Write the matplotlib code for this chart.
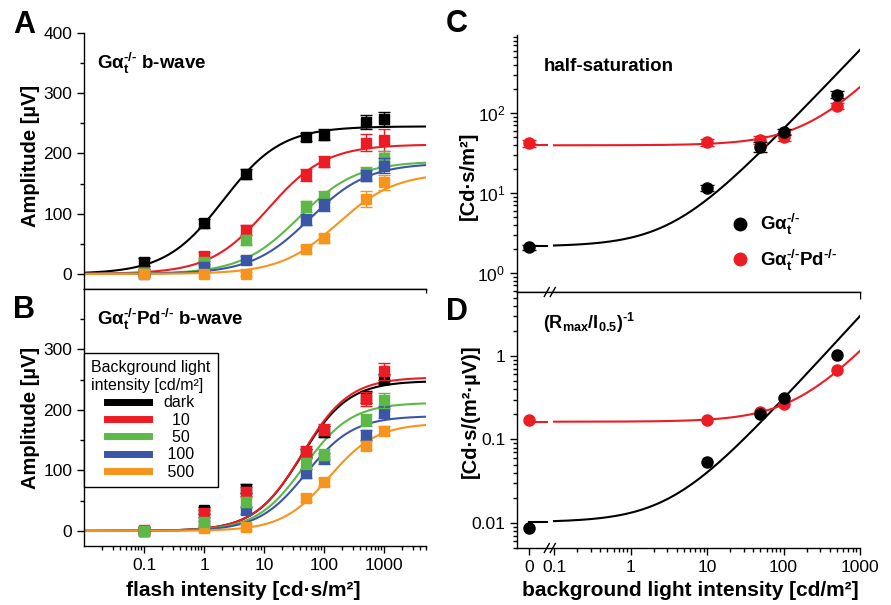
import numpy as np
import matplotlib
matplotlib.use('Agg')
import matplotlib.pyplot as plt
from matplotlib.lines import Line2D
from matplotlib.ticker import FixedLocator, MultipleLocator, NullFormatter, LogLocator

plt.rcParams['font.family'] = ['Liberation Sans', 'DejaVu Sans']
plt.rcParams['mathtext.fontset'] = 'custom'
plt.rcParams['mathtext.rm'] = 'Liberation Sans'
plt.rcParams['mathtext.bf'] = 'Liberation Sans:bold'
plt.rcParams['mathtext.it'] = 'Liberation Sans:italic'
plt.rcParams['axes.linewidth'] = 1.0

# ---- data -------------------------------------------------------------
flash = [0.1, 1, 5, 50, 100, 500, 1000]            # cd s/m2
bg_labels = ['dark', '  10', '  50', ' 100', ' 500']
colors = ['#000000', '#ed1c24', '#5cb947', '#3b56a6', '#f7941d']

# A: Gat-/- b-wave amplitude (uV), one row per background
amp_a = [[20, 84, 166, 227, 231, 252, 257],
         [3, 29, 73, 164, 186, 218, 222],
         [1, 20, 56, 112, 128, 168, 192],
         [0, 12, 23, 90, 115, 163, 180],
         [0, 0, 0, 41, 59, 124, 152]]
err_a = [[7, 7, 8, 7, 9, 12, 12],
         [5, 7, 9, 10, 9, 14, 18],
         [4, 6, 8, 9, 9, 10, 12],
         [3, 5, 6, 9, 10, 9, 12],
         [3, 3, 3, 6, 7, 13, 12]]
rmax_a = [245, 215, 187, 184, 168]
half_a = [2.1, 11.5, 38, 58, 170]
hill_a = 0.9

# B: Gat-/-Pd-/- b-wave amplitude (uV)
amp_b = [[0, 34, 70, 128, 164, 222, 251],
         [1, 29, 65, 131, 167, 218, 264],
         [0, 15, 48, 112, 126, 184, 216],
         [0, 12, 34, 95, 120, 159, 196],
         [0, 4, 7, 54, 81, 141, 166]]
err_b = [[4, 6, 7, 8, 9, 10, 8],
         [5, 6, 8, 9, 9, 12, 14],
         [4, 6, 8, 9, 9, 10, 12],
         [3, 5, 6, 8, 9, 8, 10],
         [3, 4, 5, 7, 7, 8, 8]]
rmax_b = [248, 254, 212, 190, 178]
half_b = [42, 43, 46, 50, 122]
hill_b = 1.1

# C / D vs background light (cd/m2)
bg = [0, 10, 50, 100, 500]
half_gat = [2.1, 11.5, 38, 58, 170]
half_gat_err = [0.15, 1.0, 5, 5, 18]
half_pd = [42, 43, 46, 50, 122]
half_pd_err = [4, 4, 5, 5, 10]
ratio_gat = [0.0088, 0.053, 0.2, 0.31, 1.02]
ratio_pd = [0.17, 0.17, 0.215, 0.265, 0.68]
# Weber fits: y0 * (1 + B / Bc)
fit_c = {'gat': (2.15, 3.5), 'pd': (39.5, 230)}
fit_d = {'gat': (0.0102, 3.4), 'pd': (0.163, 165)}

# ---- layout -----------------------------------------------------------
W, H = 891, 605
fig = plt.figure(figsize=(W / 100, H / 100), dpi=100)


def box(l, t, r, b):
    return [l / W, 1 - b / H, (r - l) / W, (b - t) / H]


ax_a = fig.add_axes(box(84, 33, 426, 289))
ax_b = fig.add_axes(box(84, 289, 426, 546))
ax_c = fig.add_axes(box(517, 35, 860, 292))
ax_d = fig.add_axes(box(517, 292, 860, 548))

xs = np.logspace(-2, np.log10(5000), 400)


def hill(x, rmax, half, n):
    return rmax * x ** n / (x ** n + half ** n)


# drawing order of the markers (higher = on top)
z_a = [3, 4, 5, 6, 7]
z_b = [3, 4, 7, 5, 6]

for ax, amp, err, rmax, half, n, zs in [(ax_a, amp_a, err_a, rmax_a, half_a, hill_a, z_a),
                                        (ax_b, amp_b, err_b, rmax_b, half_b, hill_b, z_b)]:
    for i in range(5):
        ax.plot(xs, hill(xs, rmax[i], half[i], n), color=colors[i], lw=1.5, zorder=2)
    for i in range(5):
        ax.errorbar(flash, amp[i], yerr=err[i], fmt='s', color=colors[i], ms=7,
                    capsize=4.5, elinewidth=1.0, capthick=1.0, zorder=zs[i])
    ax.set_xscale('log')
    ax.set_xlim(0.01, 5000)
    ax.set_ylim(-25, 400)
    ax.spines['right'].set_visible(False)
    ax.tick_params(which='both', direction='out', labelsize=12.5, width=1)
    ax.tick_params(which='major', length=5)
    ax.tick_params(which='minor', length=3)
    ax.xaxis.set_major_locator(FixedLocator([0.1, 1, 10, 100, 1000]))
    ax.xaxis.set_minor_locator(LogLocator(base=10, subs=np.arange(2, 10), numticks=20))
    ax.xaxis.set_minor_formatter(NullFormatter())

ax_a.spines['top'].set_visible(False)
ax_a.yaxis.set_major_locator(MultipleLocator(100))
ax_a.yaxis.set_minor_locator(MultipleLocator(50))
ax_a.tick_params(axis='x', labelbottom=False)

ax_b.yaxis.set_major_locator(FixedLocator([0, 100, 200, 300]))
ax_b.yaxis.set_minor_locator(FixedLocator([50, 150, 250, 350]))
ax_b.set_xticklabels(['0.1', '1', '10', '100', '1000'])

hy = '\u2010'
ko = '$_\\mathbf{t}^\\mathbf{' + hy + '/' + hy + '}$'
pd = 'Pd$^\\mathbf{' + hy + '/' + hy + '}$'
title_kw = dict(fontsize=13.5, fontweight='bold', va='center', ha='left')
ax_a.text(0.038, 0.883, 'G\u03b1' + ko + ' b-wave', transform=ax_a.transAxes, **title_kw)
ax_b.text(0.038, 0.883, 'G\u03b1' + ko + pd + ' b-wave', transform=ax_b.transAxes, **title_kw)

handles = [Line2D([], [], color=c, lw=5) for c in colors]
leg = ax_b.legend(handles, bg_labels, title='Background light\nintensity [cd/m\u00b2]',
                  loc='upper left', bbox_to_anchor=(0.0, 0.75), borderaxespad=0,
                  fontsize=11.5, title_fontsize=11.5, handlelength=2.6, handletextpad=0.9,
                  labelspacing=0.15, borderpad=0.45, fancybox=False, edgecolor='black')
leg.get_frame().set_linewidth(1.0)
leg.get_frame().set_alpha(None)

# ---- C and D -----------------------------------------------------------
x_zero = 0.047      # where "0" sits on the broken axis
x_break = 0.088
bg_pos = [x_zero if b == 0 else b for b in bg]
xr = np.logspace(-1, 3, 300)
xl = np.array([x_zero, 0.082])

for ax, fits in [(ax_c, fit_c), (ax_d, fit_d)]:
    for key, c in [('gat', 'black'), ('pd', colors[1])]:
        y0, bc = fits[key]
        ax.plot(xr, y0 * (1 + xr / bc), color=c, lw=1.5, zorder=2)
        ax.plot(xl, [y0, y0], color=c, lw=1.5, zorder=2)

ax_c.errorbar(bg_pos, half_gat, yerr=half_gat_err, fmt='o', color='black', ms=8,
              capsize=5, elinewidth=1.0, capthick=1.0, zorder=4)
ax_c.errorbar(bg_pos, half_pd, yerr=half_pd_err, fmt='o', color=colors[1], ms=8,
              capsize=5, elinewidth=1.0, capthick=1.0, zorder=3)
ax_d.plot(bg_pos, ratio_gat, 'o', color='black', ms=8, zorder=4)
ax_d.plot(bg_pos, ratio_pd, 'o', color=colors[1], ms=8, zorder=3)

for ax in (ax_c, ax_d):
    ax.set_xscale('log')
    ax.set_yscale('log')
    ax.set_xlim(0.0328, 1000)
    ax.spines['right'].set_visible(False)
    ax.xaxis.set_major_locator(FixedLocator([x_zero, 0.1, 1, 10, 100, 1000]))
    minors = [k * 10.0 ** d for d in range(-1, 3) for k in range(2, 10)]
    ax.xaxis.set_minor_locator(FixedLocator(minors))
    ax.xaxis.set_minor_formatter(NullFormatter())
    ax.yaxis.set_minor_locator(LogLocator(base=10, subs=np.arange(2, 10), numticks=20))
    ax.yaxis.set_minor_formatter(NullFormatter())
    ax.tick_params(which='both', direction='out', labelsize=12.5, width=1)
    ax.tick_params(which='major', length=5)
    ax.tick_params(which='minor', length=3)

ax_c.spines['top'].set_visible(False)
ax_c.set_ylim(0.58, 944)
ax_c.tick_params(axis='x', labelbottom=False)
ax_d.set_ylim(0.005, 5.84)
ax_d.yaxis.set_major_locator(FixedLocator([0.01, 0.1, 1]))
ax_d.set_yticklabels(['0.01', '0.1', '1'])
ax_d.set_xticklabels(['0', '0.1', '1', '10', '100', '1000'])

# "//" axis-break marks, drawn in pixel space at the break position
for ax in (ax_c, ax_d):
    px, py = ax.transData.transform((x_break, ax.get_ylim()[0]))
    for dx in (-3, 3):
        fig.add_artist(Line2D([px + dx - 2.5, px + dx + 2.5], [py - 4.5, py + 4.5],
                              transform=None, color='black', lw=1.0))

ax_c.text(0.079, 0.879, 'half-saturation', transform=ax_c.transAxes, **title_kw)
ax_d.text(0.076, 0.879, '(R$_\\mathbf{max}$/I$_\\mathbf{0.5}$)$^\\mathbf{' + hy + '1}$',
          transform=ax_d.transAxes, **dict(title_kw, fontsize=13))

c_handles = [Line2D([], [], marker='o', ls='', color='black', ms=9),
             Line2D([], [], marker='o', ls='', color=colors[1], ms=9)]
ax_c.legend(c_handles, ['G\u03b1' + ko, 'G\u03b1' + ko + pd],
            loc='upper left', bbox_to_anchor=(0.6, 0.34), frameon=False,
            prop={'weight': 'bold', 'size': 13.5}, handlelength=1.0, handletextpad=0.6,
            labelspacing=0.55, borderaxespad=0)

# ---- labels ------------------------------------------------------------
lab_kw = dict(fontsize=14.5, fontweight='bold', ha='center', va='center')
fig.text(30 / W, 1 - 156 / H, 'Amplitude [\u00b5V]', rotation=90, **lab_kw)
fig.text(30 / W, 1 - 418 / H, 'Amplitude [\u00b5V]', rotation=90, **lab_kw)
fig.text(468 / W, 1 - 176 / H, '[Cd\u00b7s/m\u00b2]', rotation=90, **lab_kw)
fig.text(470 / W, 1 - 411 / H, '[Cd\u00b7s/(m\u00b2\u00b7\u00b5V)]', rotation=90, **lab_kw)
fig.text(243 / W, 1 - 591 / H, 'flash intensity [cd\u00b7s/m\u00b2]', **dict(lab_kw, fontsize=15))
fig.text(690 / W, 1 - 591 / H, 'background light intensity [cd/m\u00b2]', **dict(lab_kw, fontsize=15))

let_kw = dict(fontsize=22, fontweight='bold', ha='left', va='baseline')
fig.text(13 / W, 1 - 33 / H, 'A', **let_kw)
fig.text(13 / W, 1 - 318 / H, 'B', **let_kw)
fig.text(446 / W, 1 - 32 / H, 'C', **let_kw)
fig.text(446 / W, 1 - 320 / H, 'D', **let_kw)

fig.savefig('out.png', dpi=100)
